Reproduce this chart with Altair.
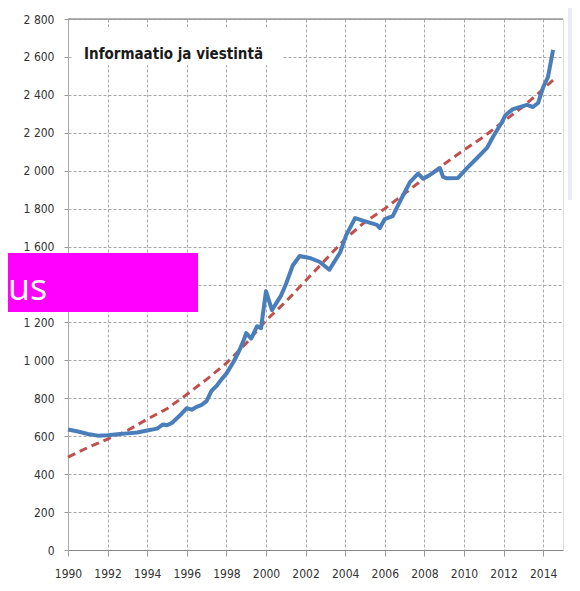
import altair as alt
import pandas as pd

# Blue series (observed), decimal years
obs_year = [1990.0, 1990.5, 1991.0, 1991.5, 1992.0, 1992.5, 1993.0, 1993.5, 1994.0, 1994.5,
            1994.8, 1995.0, 1995.25, 1995.5, 1995.75, 1996.0, 1996.25, 1996.5, 1996.75, 1997.0,
            1997.25, 1997.5, 1997.75, 1998.0, 1998.35, 1998.6, 1998.85, 1999.0, 1999.25, 1999.55,
            1999.75, 2000.0, 2000.3, 2000.75, 2001.0, 2001.35, 2001.7, 2002.2, 2002.7, 2003.2,
            2003.75, 2004.05, 2004.5, 2005.1, 2005.6, 2005.75, 2006.0, 2006.4, 2006.75, 2007.27,
            2007.68, 2007.93, 2008.28, 2008.79, 2008.94, 2009.14, 2009.7, 2010.15, 2010.66, 2011.16,
            2011.46, 2011.92, 2012.1, 2012.47, 2013.18, 2013.48, 2013.74, 2014.0, 2014.24, 2014.5]
obs_value = [635, 625, 612, 603, 605, 610, 615, 620, 630, 640,
             662, 658, 670, 695, 720, 748, 740, 755, 765, 785,
             840, 865, 900, 930, 990, 1040, 1100, 1144, 1115, 1180,
             1170, 1365, 1265, 1340, 1400, 1500, 1550, 1540, 1520, 1478,
             1570, 1660, 1750, 1730, 1714, 1698, 1745, 1760, 1835, 1940,
             1985, 1958, 1978, 2014, 1967, 1960, 1962, 2014, 2067, 2120,
             2178, 2257, 2294, 2325, 2347, 2336, 2357, 2441, 2494, 2637]

# Red dashed trend
trend_year = [1990, 1991, 1992, 1993, 1994, 1995, 1996, 1997, 1998, 1999, 2000, 2001, 2002,
              2003, 2004, 2005, 2006, 2007, 2008, 2009, 2010, 2011, 2012, 2013, 2014, 2014.5]
trend_value = [490, 540, 585, 630, 690, 745, 820, 900, 985, 1090, 1210, 1310, 1420,
               1530, 1640, 1730, 1800, 1880, 1960, 2035, 2110, 2180, 2260, 2340, 2430, 2478]

x_ticks = list(range(1990, 2015, 2))
y_ticks = list(range(0, 2801, 200))
title_text = "Informaatio ja viestintä"
overlay_text = "us"

obs = pd.DataFrame({"year": obs_year, "value": obs_value})
trend = pd.DataFrame({"year": trend_year, "value": trend_value})
one = pd.DataFrame({"k": [0]})  # single row for decorations

FONT = "DejaVu Sans Condensed, sans-serif"
W, H = 495, 531

xs = alt.Scale(domain=[1990, 2015], nice=False)
ys = alt.Scale(domain=[0, 2800], nice=False)

xax = alt.Axis(values=x_ticks, format="d", title=None, grid=True, gridDash=[3, 2],
               gridColor="#a8a8a8", domainColor="#888888", tickColor="#999999", tickSize=6,
               labelFont=FONT, labelFontSize=12, labelColor="#333333", labelPadding=12,
               labelOverlap=False, labelFlush=False)
# the 1 400 label is covered by the magenta banner in the reference
yax = alt.Axis(values=y_ticks, title=None, grid=True, gridDash=[3, 2], gridColor="#a8a8a8",
               domainColor="#aaaaaa", tickColor="#999999", tickSize=4,
               labelFont=FONT, labelFontSize=12, labelColor="#333333", labelPadding=10,
               labelOverlap=False, labelFlush=False,
               labelExpr="datum.value == 1400 ? '' : replace(format(datum.value, ','), ',', ' ')")

top_rule = alt.Chart(one).mark_rule(color="#999999", strokeWidth=1.5).encode(
    x=alt.value(0), x2=alt.value(W), y=alt.value(0)
)

title_box = alt.Chart(one).mark_rect(color="white").encode(
    x=alt.value(4), x2=alt.value(215), y=alt.value(8), y2=alt.value(46)
)
title = alt.Chart(one).mark_text(
    text=title_text, font=FONT, fontSize=15, fontWeight="bold", color="#1a1a1a",
    align="left", baseline="alphabetic"
).encode(x=alt.value(16), y=alt.value(40))

trend_line = alt.Chart(trend).mark_line(color="#C0504D", strokeWidth=3, strokeDash=[8, 5]).encode(
    x=alt.X("year:Q", scale=xs, axis=xax), y=alt.Y("value:Q", scale=ys, axis=yax)
)
obs_line = alt.Chart(obs).mark_line(color="#4A7EBB", strokeWidth=4, strokeJoin="round").encode(
    x=alt.X("year:Q", scale=xs, axis=xax), y=alt.Y("value:Q", scale=ys, axis=yax)
)

magenta = alt.Chart(one).mark_rect(color="#FF00FF").encode(
    x=alt.value(-68), x2=alt.value(130), y=alt.value(234), y2=alt.value(293)
)
magenta_text = alt.Chart(one).mark_text(
    text=overlay_text, font="Open Sans, sans-serif", fontSize=36, color="white",
    align="left", baseline="alphabetic"
).encode(x=alt.value(-60), y=alt.value(281))

strip = alt.Chart(one).mark_rect(color="#e9ecf5").encode(
    x=alt.value(500), x2=alt.value(504), y=alt.value(-11), y2=alt.value(181)
)

chart = alt.layer(
    trend_line, title_box, title, top_rule, obs_line, magenta, magenta_text, strip
).properties(
    width=W, height=H, autosize=alt.AutoSizeParams(type="none"),
    padding={"left": 60, "top": 11, "right": 9, "bottom": 30}
).configure_view(stroke="#cccccc", strokeWidth=1).configure_axis(
    labelOverlap=False, labelFlush=False
).configure(background="white")

chart.save("out.html", embed_options={"renderer": "svg", "actions": False})
